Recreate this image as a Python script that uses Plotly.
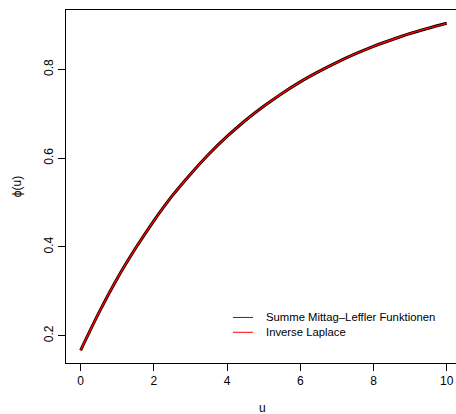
import plotly.graph_objects as go

u = [0, 0.5, 1, 1.5, 2, 2.5, 3, 3.5, 4, 4.5, 5, 5.5, 6, 6.5, 7, 7.5, 8, 8.5, 9, 9.5, 10]
phi_ml = [0.167, 0.252, 0.329, 0.397, 0.459, 0.515, 0.564, 0.609, 0.649, 0.685, 0.717,
          0.746, 0.772, 0.795, 0.816, 0.835, 0.852, 0.867, 0.881, 0.893, 0.904]
phi_lap = [0.167, 0.252, 0.329, 0.397, 0.459, 0.515, 0.564, 0.609, 0.649, 0.685, 0.717,
           0.746, 0.772, 0.795, 0.816, 0.835, 0.852, 0.867, 0.881, 0.893, 0.904]
names = ["Summe Mittag\u2013Leffler Funktionen", "Inverse Laplace"]
x_ticks = [0, 2, 4, 6, 8, 10]
y_ticks = [0.2, 0.4, 0.6, 0.8]

FONT = "Liberation Sans, Arial, sans-serif"

fig = go.Figure()
fig.add_trace(go.Scatter(x=u, y=phi_ml, mode="lines", line=dict(color="black", width=3, shape="spline"),
                         name=names[0], showlegend=False))
fig.add_trace(go.Scatter(x=u, y=phi_lap, mode="lines", line=dict(color="red", width=1.4, shape="spline"),
                         name=names[1], showlegend=False))

# legend (R style, no box)
leg_y = [0.129, 0.087]
leg_col = ["#333333", "red"]
for yy, col, nm in zip(leg_y, leg_col, names):
    fig.add_shape(type="line", xref="paper", yref="paper", x0=0.428, x1=0.4795, y0=yy, y1=yy,
                  line=dict(color=col, width=1))
    fig.add_annotation(xref="paper", yref="paper", x=0.508, y=yy, text=nm, showarrow=False,
                       xanchor="left", yanchor="middle", font=dict(family=FONT, size=11.3, color="black"))

fig.add_annotation(xref="paper", yref="paper", x=0.505, y=-0.127, text="u", showarrow=False,
                   xanchor="center", yanchor="middle", font=dict(family=FONT, size=12, color="black"))

fig.update_layout(
    width=456, height=414,
    margin=dict(l=66, r=0, t=10, b=51),
    paper_bgcolor="white", plot_bgcolor="white",
    font=dict(family=FONT, size=12, color="black"),
    xaxis=dict(range=[-0.4, 10.254], tickvals=x_ticks, ticks="outside", ticklen=7, tickcolor="black",
               showline=True, linecolor="black", linewidth=1, mirror=True, showgrid=False, zeroline=False,
               tickfont=dict(family=FONT, size=12)),
    yaxis=dict(range=[0.1385, 0.934], tickvals=y_ticks, ticks="outside", ticklen=7, tickcolor="black",
               showline=True, linecolor="black", linewidth=1, mirror=False, showgrid=False, zeroline=False,
               tickangle=-90, tickfont=dict(family=FONT, size=12),
               title=dict(text="\u03d5(u)", font=dict(family=FONT, size=12), standoff=18)),
)

fig.write_html("out.html")
